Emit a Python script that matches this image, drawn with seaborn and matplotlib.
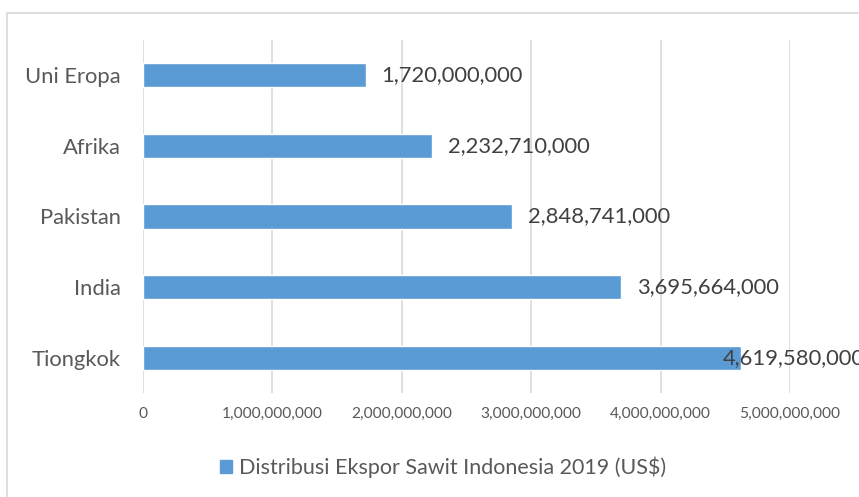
import matplotlib
matplotlib.use("Agg")
import matplotlib.pyplot as plt
import matplotlib.patches as mpatches
from matplotlib.ticker import FuncFormatter, MultipleLocator
import seaborn as sns
import pandas as pd

categories = ["Uni Eropa", "Afrika", "Pakistan", "India", "Tiongkok"]
values = [1720000000, 2232710000, 2848741000, 3695664000, 4619580000]
series_name = "Distribusi Ekspor Sawit Indonesia 2019 (US$)"

sns.set_theme(style="white")
plt.rcParams['font.family'] = ['Lato', 'DejaVu Sans']

df = pd.DataFrame({"Wilayah": categories, "Nilai": values})

fig = plt.figure(figsize=(8.59, 4.97), dpi=100)
ax = fig.add_axes([143/859, 1-393/497, (790-143)/859, (393-40)/497])

bar_color = "#5B9BD5"
sns.barplot(data=df, y="Wilayah", x="Nilai", orient="h", color=bar_color,
            width=24/70, saturation=1, ax=ax, order=categories)

ax.set_xlim(0, 5000000000)
ax.set_ylim(len(categories) - 0.5, -0.5)
ax.xaxis.set_major_locator(MultipleLocator(1000000000))
ax.xaxis.set_major_formatter(FuncFormatter(lambda v, p: f"{int(v):,}"))
ax.grid(axis="x", color="#D9D9D9", linewidth=1.2)
ax.set_axisbelow(True)
for s in ax.spines.values():
    s.set_visible(False)
ax.set_xlabel("")
ax.set_ylabel("")
ax.tick_params(axis="x", labelsize=11.2, colors="#595959", length=0, pad=10)
ax.tick_params(axis="y", labelsize=15.8, colors="#595959", length=0, pad=16)

for i, v in enumerate(values):
    last = (i == len(values) - 1)
    ax.annotate(f"{v:,}", xy=(v, i), xytext=(-18 if last else 16, 0),
                textcoords="offset pixels",
                ha="left", va="center", fontsize=15.8, color="#404040",
                annotation_clip=False)

handle = mpatches.Patch(color=bar_color, label=series_name)
fig.legend(handles=[handle], loc="center", bbox_to_anchor=(443/859, 1-467/497),
           frameon=False, fontsize=15.5, handlelength=0.55, handleheight=0.55,
           handletextpad=0.35, labelcolor="#595959")

border = mpatches.Rectangle((7/859, -0.05), 1.0, 1-13/497+0.05, transform=fig.transFigure,
                            fill=False, edgecolor="#D9D9D9", linewidth=1.2)
fig.patches.append(border)

fig.savefig("out.png", dpi=100)
